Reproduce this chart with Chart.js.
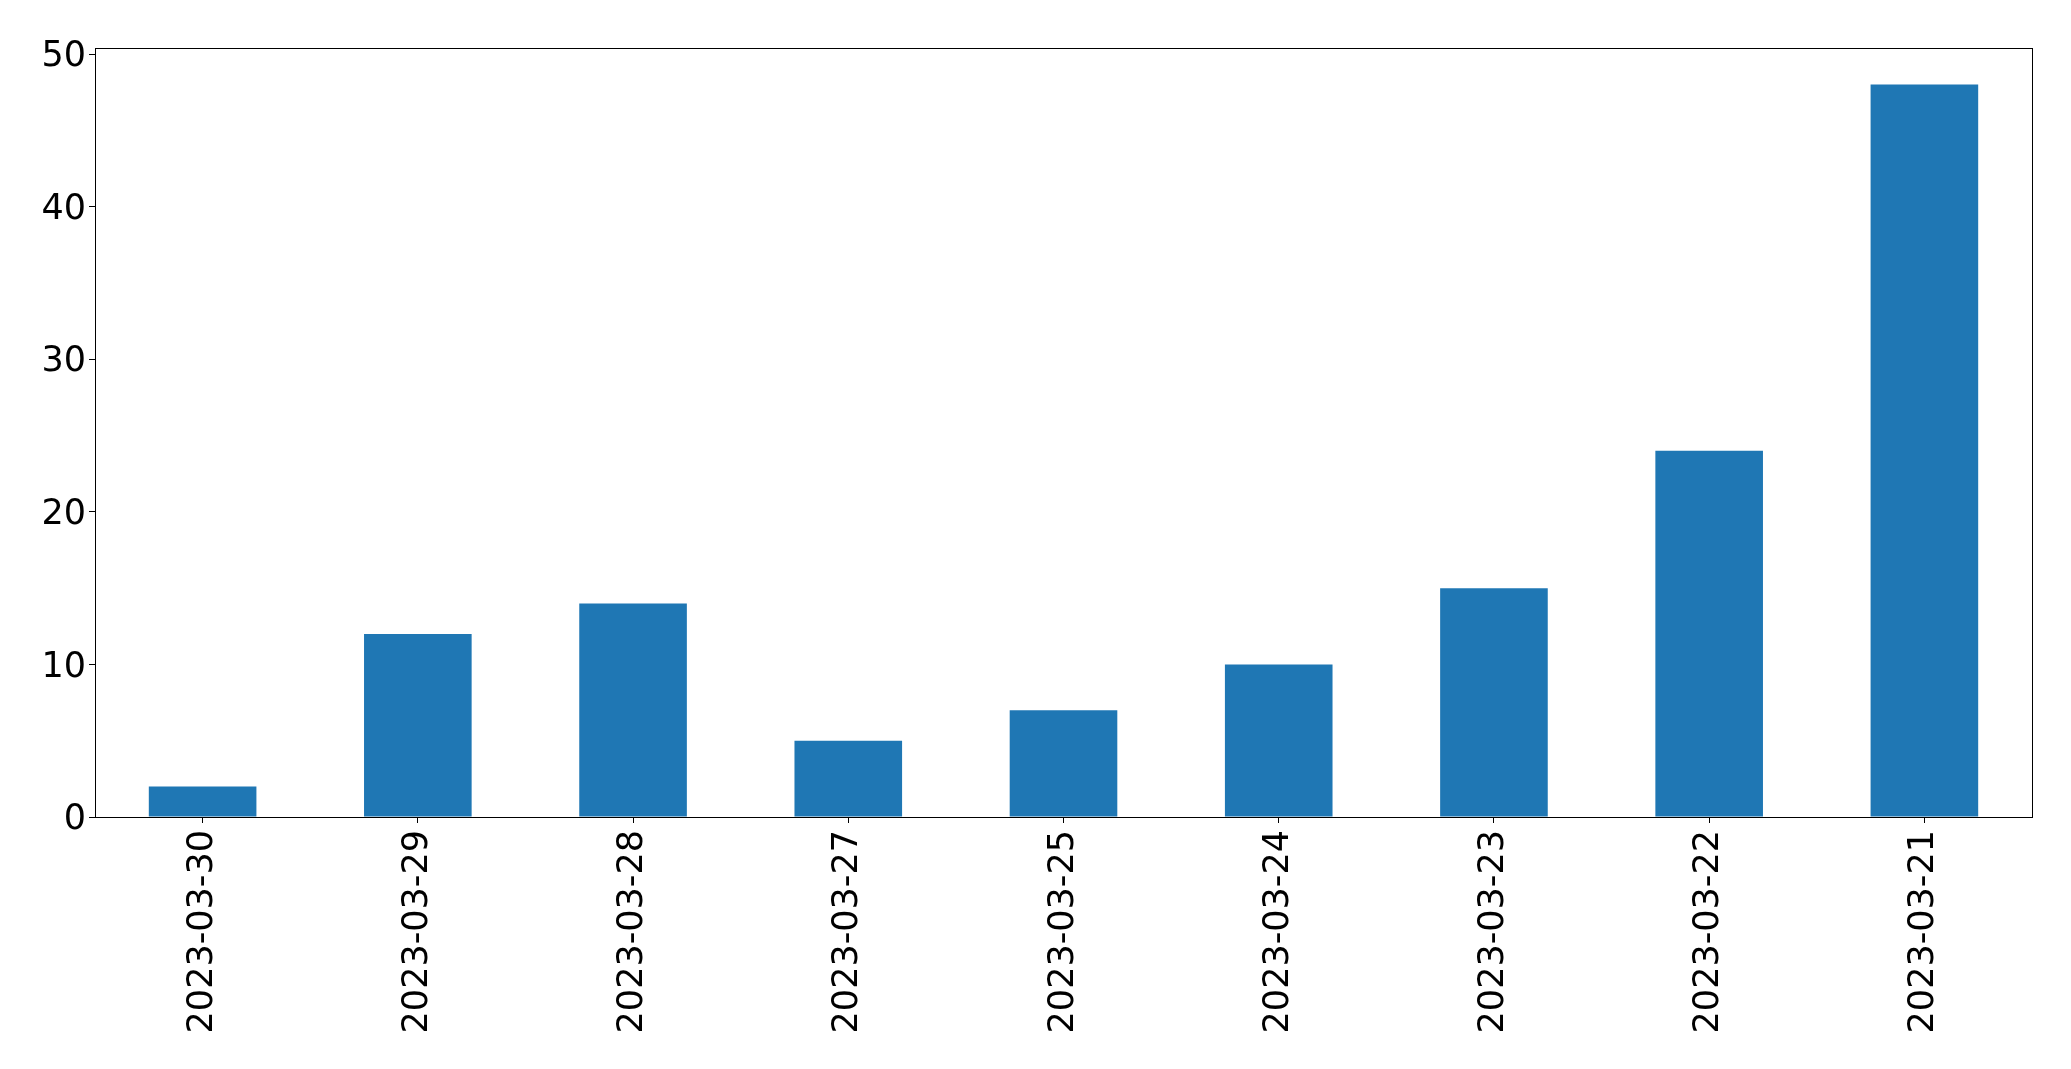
<!DOCTYPE html>
<html>
<head>
<meta charset="utf-8">
<script src="https://cdn.jsdelivr.net/npm/chart.js@4"></script>
<style>
  html, body { margin: 0; padding: 0; background: #fff; }
  #wrap { width: 2071px; height: 1069px; }
</style>
</head>
<body>
<div id="wrap"><canvas id="myChart"></canvas></div>
<script>
const categories = ['2023-03-30', '2023-03-29', '2023-03-28', '2023-03-27', '2023-03-25',
                    '2023-03-24', '2023-03-23', '2023-03-22', '2023-03-21'];
const counts = [2, 12, 14, 5, 7, 10, 15, 24, 48];
const yTicks = [0, 10, 20, 30, 40, 50];
const yMax = 50.4;

// draws the box round the plot area
const frame = {
    id: 'frame',
    afterDraw(chart) {
        const a = chart.chartArea;
        const c = chart.ctx;
        c.save();
        c.strokeStyle = '#000';
        c.lineWidth = 1;
        c.strokeRect(Math.round(a.left) + 0.5, Math.round(a.top) + 0.5,
                     Math.round(a.right - a.left), Math.round(a.bottom - a.top));
        c.restore();
    }
};

const ctx = document.getElementById('myChart');
new Chart(ctx, {
    type: 'bar',
    data: {
        labels: categories,
        datasets: [{
            data: counts,
            backgroundColor: '#1f77b4',
            borderWidth: 0,
            barPercentage: 0.5,
            categoryPercentage: 1
        }]
    },
    options: {
        responsive: true,
        maintainAspectRatio: false,
        animation: false,
        layout: { padding: { left: 0, right: 39, top: 48, bottom: 0 } },
        plugins: { legend: { display: false }, tooltip: { enabled: false } },
        scales: {
            x: {
                offset: true,
                grid: { display: true, offset: false, drawOnChartArea: false, drawTicks: true, tickLength: 6, color: '#000' },
                border: { display: false },
                ticks: {
                    color: '#000',
                    font: { family: 'DejaVu Sans', size: 35 },
                    minRotation: 90, maxRotation: 90,
                    padding: 7,
                    autoSkip: false
                },
                afterFit(scale) { scale.height = 252; }
            },
            y: {
                min: 0,
                max: yMax,
                grid: { display: true, drawOnChartArea: false, drawTicks: true, tickLength: 6, color: '#000' },
                border: { display: false },
                afterBuildTicks(scale) { scale.ticks = yTicks.map(v => ({ value: v })); },
                ticks: {
                    color: '#000',
                    font: { family: 'DejaVu Sans', size: 35 },
                    padding: 3,
                    labelOffset: 3
                },
                afterFit(scale) { scale.width = 95; }
            }
        }
    },
    plugins: [frame]
});
</script>
</body>
</html>
